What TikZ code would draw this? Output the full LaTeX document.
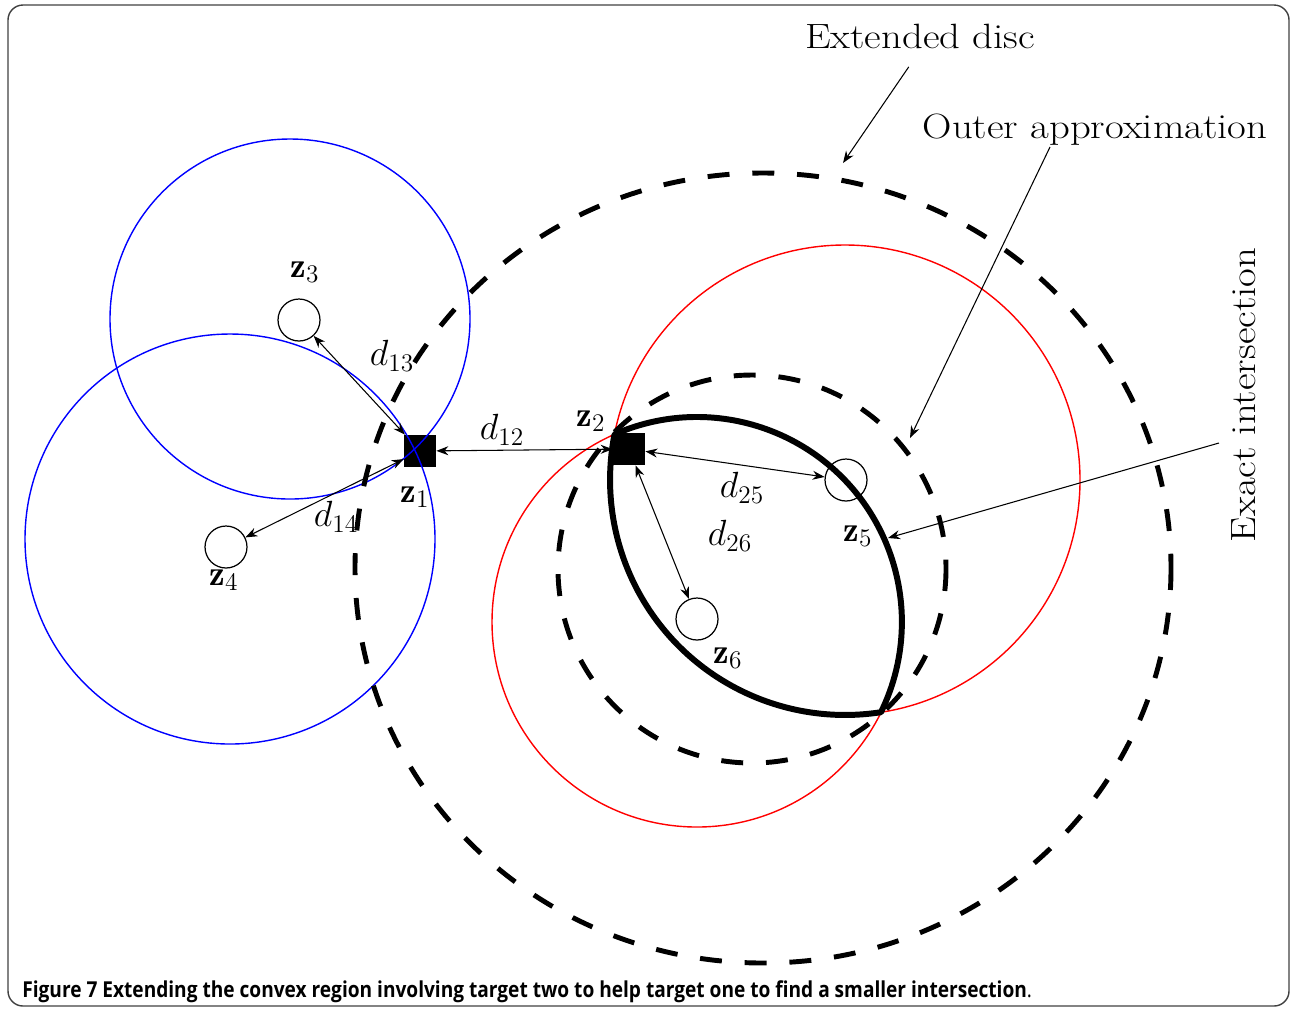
\documentclass[tikz,border=0pt]{standalone}
\usepackage{amsmath, amssymb}
\usepackage{fontspec}
\newfontfamily\capfont[FakeStretch=0.87]{Open Sans}
\newfontfamily\annfont[FakeStretch=1.16]{Latin Modern Roman}
\usepackage{xcolor}
\usepackage{tikz}
\usetikzlibrary{arrows.meta, positioning}
\definecolor{rngblue}{HTML}{0000FF}
\definecolor{rngred}{HTML}{FF0000}
\tikzset{
  tgtnode/.style={circle,draw=black,line width=0.7pt,minimum size=0.84cm,inner sep=0pt},
  ancnode/.style={rectangle,fill=black,minimum size=0.64cm,inner sep=0pt},
  lbl/.style={font=\fontsize{20}{24}\selectfont,inner sep=1pt},
  annlbl/.style={font=\annfont\fontsize{20}{24}\selectfont,inner sep=1pt,anchor=base},
  bluecirc/.style={draw=rngblue,line width=0.8pt},
  redcirc/.style={draw=rngred,line width=0.8pt},
  bigdash/.style={draw=black,line width=2.8pt,dash pattern=on 12.5pt off 13pt},
  exactlens/.style={draw=black,line width=3.4pt,line join=round},
  distedge/.style={<->,>={Stealth[length=2.4mm,width=1.8mm]},line width=0.6pt},
  annedge/.style={->,>={Stealth[length=2.4mm,width=1.8mm]},line width=0.6pt},
}

\begin{document}
\begin{tikzpicture}[x=0.02cm,y=-0.02cm]
  \useasboundingbox (0,0) rectangle (1293,1009);
  \draw[black!75,line width=0.8pt,rounded corners=0.3cm] (8,5) rectangle (1289,1006);

  \node[ancnode] (z1) at (420,451) {};
  \node[ancnode] (z2) at (629,449) {};
  \node[tgtnode] (z3) at (299,320) {};
  \node[tgtnode] (z4) at (226,547) {};
  \node[tgtnode] (z5) at (846,480) {};
  \node[tgtnode] (z6) at (697,619) {};

  \draw[bluecirc] (290,319) circle[radius=180];
  \draw[bluecirc] (230,539) circle[radius=205];
  \draw[redcirc] (845,480) circle[radius=235];
  \draw[redcirc] (697,622) circle[radius=205];

  \draw[bigdash] (763,568) ellipse[x radius=408,y radius=395];
  \draw[bigdash] (752,569) circle[radius=194];
  \draw[exactlens] (614.5,434.3) arc[start angle=-113.7,end angle=26.1,radius=205]
    arc[start angle=81.2,end angle=191.2,radius=235] -- cycle;

  \draw[distedge] (z3) -- (z1);
  \draw[distedge] (z4) -- (z1);
  \draw[distedge] (z2) -- (z1);
  \draw[distedge] (z2) -- (z5);
  \draw[distedge] (z2) -- (z6);

  \node[lbl] (lz1) at (415,497) {$\mathbf{z}_1$};
  \node[lbl] (lz2) at (591,421) {$\mathbf{z}_2$};
  \node[lbl] (lz3) at (305,272) {$\mathbf{z}_3$};
  \node[lbl] (lz4) at (224,580) {$\mathbf{z}_4$};
  \node[lbl] (lz5) at (858,536) {$\mathbf{z}_5$};
  \node[lbl] (lz6) at (728,658) {$\mathbf{z}_6$};
  \node[lbl] (l12) at (502,430) {$d_{12}$};
  \node[lbl] (l13) at (392,356) {$d_{13}$};
  \node[lbl] (l14) at (336,517) {$d_{14}$};
  \node[lbl] (l25) at (742,488) {$d_{25}$};
  \node[lbl] (l26) at (730,536) {$d_{26}$};

  \node[annlbl] (extlbl) at (920,48) {Extended disc};
  \node[annlbl] (outlbl) at (1095,138) {Outer approximation};
  \node[annlbl,rotate=90] (exalbl) at (1255,395) {Exact intersection};
  \coordinate (extpt) at (843,163);
  \coordinate (outpt) at (910,438);
  \coordinate (exapt) at (888,538);
  \draw[annedge,shorten <=0.4cm] (extlbl.south) -- (extpt);
  \draw[annedge] ([xshift=-0.9cm]outlbl.south) -- (outpt);
  \draw[annedge] ([xshift=-0.2cm,yshift=-0.96cm]exalbl.north) -- (exapt);

  \node[anchor=base west,inner sep=0pt,font=\capfont\fontsize{12.5}{15}\selectfont] (cap) at (22,997)
    {\textbf{Figure 7 Extending the convex region involving target two to help target one to find a smaller intersection}.};
\end{tikzpicture}
\end{document}
